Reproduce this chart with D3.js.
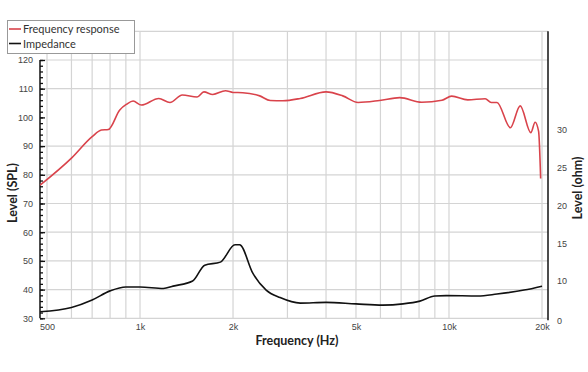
<!DOCTYPE html>
<html>
<head>
<meta charset="utf-8">
<script src="https://cdn.jsdelivr.net/npm/d3@7"></script>
<style>
  body { margin: 0; background: #fff; }
  svg { font-family: Lato, "Open Sans", sans-serif; }
</style>
</head>
<body>
<div id="chart-area"></div>
<script>
// frequency response (Hz, dB SPL)
var splFreq = [475, 600, 700, 750, 790, 860, 905, 950, 1010, 1150, 1250, 1370, 1530, 1610, 1720, 1890, 2000, 2150, 2440, 2640, 2900, 3300, 4000, 4530, 5080, 5960, 6930, 8160, 9490, 10200, 11500, 13100, 13700, 14300, 15800, 17000, 18400, 19000, 19500, 19800];
var splLevel = [76.4, 85.8, 93.3, 95.6, 95.8, 102.6, 104.6, 105.7, 104.3, 106.6, 105.2, 107.8, 107.1, 108.9, 108.0, 109.3, 108.7, 108.6, 107.5, 105.9, 105.8, 106.6, 108.9, 107.5, 105.2, 105.9, 106.9, 105.3, 106.0, 107.4, 106.1, 106.5, 105.2, 105.2, 96.4, 104.0, 94.7, 98.3, 95.1, 78.7];

// impedance (Hz, ohm)
var impFreq = [475, 600, 700, 800, 900, 1000, 1190, 1280, 1480, 1620, 1820, 2030, 2100, 2320, 2560, 2840, 3300, 4000, 5000, 6100, 7100, 8050, 9000, 9800, 12400, 14300, 17500, 20000];
var impOhm = [2.2, 3.3, 5.2, 7.5, 8.5, 8.5, 8.1, 8.7, 10.0, 12.1, 12.5, 14.8, 14.8, 11.0, 7.7, 5.8, 4.4, 4.6, 4.2, 3.9, 4.2, 4.9, 6.2, 6.3, 6.2, 6.7, 7.7, 8.7];

var xGrid = [500, 600, 700, 800, 900, 1000, 2000, 3000, 4000, 5000, 6000, 7000, 8000, 9000, 10000, 20000];
var xTicks = [500, 1000, 2000, 5000, 10000, 20000];
var xTickLabels = ["500", "1k", "2k", "5k", "10k", "20k"];
var yGrid = [30, 40, 50, 60, 70, 80, 90, 110, 120, 130];
var yTicks = [30, 40, 50, 60, 70, 80, 90, 100, 110, 120];
var ohmTicks = [0, 10, 15, 20, 25, 30];
var seriesNames = ["Frequency response", "Impedance"];
var seriesColors = ["#d9434b", "#111"];

var width = 588, height = 372;
var plotLeft = 40, plotRight = 548, plotTop = 31.3, plotBottom = 318.3;

var svg = d3.select("#chart-area").append("svg")
    .attr("width", width)
    .attr("height", height);

var x = d3.scaleLog()
    .domain([500, 20000])
    .range([47, 542]);

var y = d3.scaleLinear()
    .domain([30, 130])
    .range([plotBottom, plotTop]);

// right axis labels are not evenly spaced below 10
var ohm = d3.scaleLinear()
    .domain([0, 10, 30])
    .range([320.5, 281, 130]);

// grid
svg.append("g").selectAll("line")
  .data(xGrid).enter().append("line")
    .attr("x1", function(d){ return x(d); })
    .attr("x2", function(d){ return x(d); })
    .attr("y1", plotTop).attr("y2", plotBottom)
    .attr("stroke", "#d4d4d4").attr("stroke-width", 1.2);

svg.append("g").selectAll("line")
  .data(yGrid).enter().append("line")
    .attr("x1", plotLeft).attr("x2", plotRight)
    .attr("y1", function(d){ return y(d); })
    .attr("y2", function(d){ return y(d); })
    .attr("stroke", "#d4d4d4").attr("stroke-width", 1.2);

// left axis
var yMinor = svg.append("g")
    .attr("transform", "translate(" + plotLeft + ",0)")
    .call(d3.axisLeft(y).tickValues(d3.range(30, 121, 2)).tickSizeInner(-3).tickSizeOuter(0).tickFormat(""));
yMinor.select(".domain").remove();
yMinor.selectAll("line").attr("stroke", "#111").attr("stroke-width", 1.3);

var yAxisGroup = svg.append("g")
    .attr("transform", "translate(" + plotLeft + ",0)")
    .call(d3.axisLeft(y).tickValues(yTicks).tickSizeInner(-5).tickSizeOuter(0).tickPadding(7));
yAxisGroup.select(".domain").remove();
yAxisGroup.selectAll("line").attr("stroke", "#111").attr("stroke-width", 1.3);
yAxisGroup.selectAll("text").attr("fill", "#444").attr("font-size", "9px");

svg.append("line")
    .attr("x1", plotLeft).attr("x2", plotLeft)
    .attr("y1", y(120)).attr("y2", y(30))
    .attr("stroke", "#111").attr("stroke-width", 1.5);

// right axis
svg.append("line")
    .attr("x1", plotRight).attr("x2", plotRight)
    .attr("y1", plotTop).attr("y2", plotBottom + 2)
    .attr("stroke", "#111").attr("stroke-width", 1.5);

var ohmAxisGroup = svg.append("g")
    .attr("transform", "translate(" + plotRight + ",0)")
    .call(d3.axisRight(ohm).tickValues(ohmTicks).tickSize(0).tickPadding(9));
ohmAxisGroup.select(".domain").remove();
ohmAxisGroup.selectAll("text").attr("fill", "#444").attr("font-size", "9px");

// bottom axis labels
var xAxisGroup = svg.append("g")
    .attr("transform", "translate(0," + plotBottom + ")")
    .call(d3.axisBottom(x).tickValues(xTicks).tickSize(0).tickPadding(5)
      .tickFormat(function(d, i){ return xTickLabels[i]; }));
xAxisGroup.select(".domain").remove();
xAxisGroup.selectAll("text").attr("fill", "#444").attr("font-size", "9px");

// curves
var splData = splFreq.map(function(f, i){ return {f: f, v: splLevel[i]}; });
var impData = impFreq.map(function(f, i){ return {f: f, v: impOhm[i]}; });

var splLine = d3.line()
    .x(function(d){ return x(d.f); })
    .y(function(d){ return y(d.v); })
    .curve(d3.curveMonotoneX);

var impLine = d3.line()
    .x(function(d){ return x(d.f); })
    .y(function(d){ return ohm(d.v); })
    .curve(d3.curveMonotoneX);

svg.append("path")
    .datum(impData)
    .attr("d", impLine)
    .attr("fill", "none")
    .attr("stroke", seriesColors[1])
    .attr("stroke-width", 1.6);

svg.append("path")
    .datum(splData)
    .attr("d", splLine)
    .attr("fill", "none")
    .attr("stroke", seriesColors[0])
    .attr("stroke-width", 1.6);

// axis titles
svg.append("text")
    .attr("x", 297).attr("y", 345)
    .attr("text-anchor", "middle")
    .attr("font-size", "12.5px").attr("font-weight", "bold").attr("fill", "#222")
    .text("Frequency (Hz)");

svg.append("text")
    .attr("transform", "translate(17,193) rotate(-90)")
    .attr("text-anchor", "middle")
    .attr("font-size", "12.5px").attr("font-weight", "bold").attr("fill", "#222")
    .text("Level (SPL)");

svg.append("text")
    .attr("transform", "translate(582,188) rotate(-90)")
    .attr("text-anchor", "middle")
    .attr("font-size", "12.5px").attr("font-weight", "bold").attr("fill", "#222")
    .text("Level (ohm)");

// legend
var legend = svg.append("g");
legend.append("rect")
    .attr("x", 7.5).attr("y", 20.5)
    .attr("width", 127).attr("height", 33)
    .attr("fill", "#fff").attr("stroke", "#999");

var items = legend.selectAll("g")
  .data(seriesNames).enter().append("g")
    .attr("transform", function(d, i){ return "translate(0," + (29 + i * 14.5) + ")"; });

items.append("line")
    .attr("x1", 9).attr("x2", 21)
    .attr("stroke", function(d, i){ return seriesColors[i]; })
    .attr("stroke-width", 1.6);

items.append("text")
    .attr("x", 23).attr("y", 4)
    .attr("font-size", "11px").attr("fill", "#333")
    .text(function(d){ return d; });
</script>
</body>
</html>
